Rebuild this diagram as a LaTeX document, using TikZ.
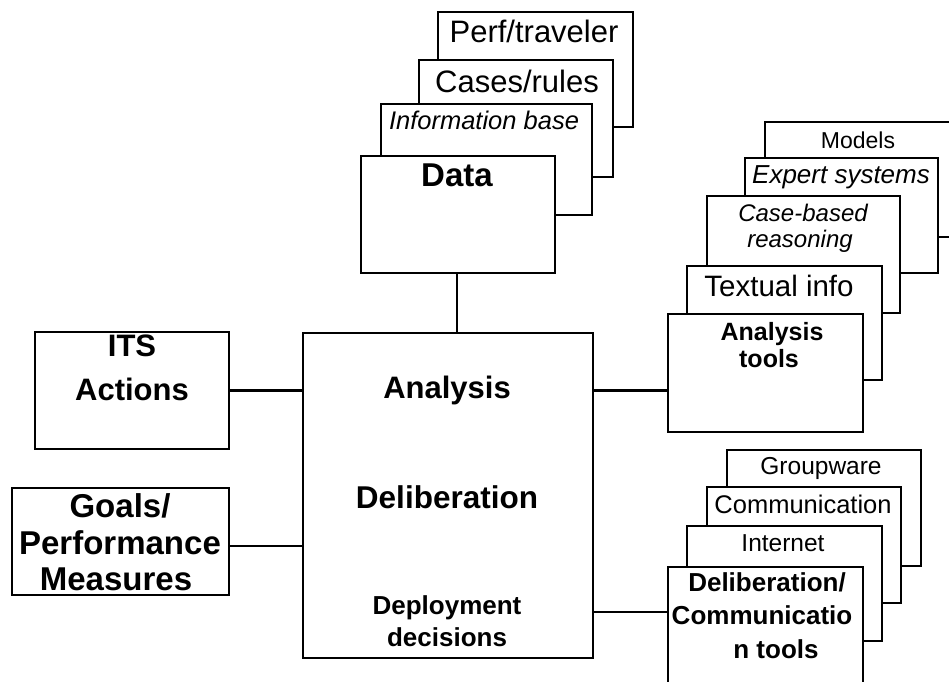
\documentclass[tikz,border=0pt]{standalone}
\usepackage{fontspec}
\setmainfont{Liberation Sans}
\begin{document}
\begin{tikzpicture}[x=1pt,y=-1pt,
  bx/.style={draw, line width=2.3pt, fill=white, inner sep=0pt, outer sep=0pt, anchor=north west},
  tx/.style={anchor=base, inner sep=0pt, outer sep=0pt},
  conn/.style={line width=2.3pt}]
\clip (0,0) rectangle (949,681);
\fill[white] (0,0) rectangle (949,681);
% ---- Data stack
\node[bx, minimum width=195, minimum height=115] (perf) at (438,12) {};
\node[tx, font=\fontsize{31}{35}\selectfont] (perft) at (534,42) {Perf/traveler};
\node[bx, minimum width=194, minimum height=117] (cases) at (419,60) {};
\node[tx, font=\fontsize{31}{35}\selectfont] (casest) at (517,92) {Cases/rules};
\node[bx, minimum width=211, minimum height=111] (info) at (381,104) {};
\node[tx, font=\fontsize{25.5}{29}\selectfont\itshape] (infot) at (484,129) {Information base};
\node[bx, minimum width=194, minimum height=117] (data) at (361,156) {};
\node[tx, font=\fontsize{33}{37}\selectfont\bfseries] (datat) at (457,186) {Data};
% ---- Main box
\node[bx, minimum width=290, minimum height=325] (main) at (303,333) {};
\node[tx, font=\fontsize{31}{35}\selectfont\bfseries] (m1) at (447,398) {Analysis};
\node[tx, font=\fontsize{31.5}{35}\selectfont\bfseries] (m2) at (447,508) {Deliberation};
\node[tx, font=\fontsize{26}{30}\selectfont\bfseries] (m3) at (447,614) {Deployment};
\node[tx, font=\fontsize{26}{30}\selectfont\bfseries] (m4) at (447,646) {decisions};
% ---- Left boxes
\node[bx, minimum width=194, minimum height=117] (its) at (35,332) {};
\node[tx, font=\fontsize{31}{35}\selectfont\bfseries] (its1) at (132,356) {ITS};
\node[tx, font=\fontsize{31}{35}\selectfont\bfseries] (its2) at (132,400) {Actions};
\node[bx, minimum width=217, minimum height=107] (goals) at (12,488) {};
\node[tx, font=\fontsize{33}{37}\selectfont\bfseries] (g1) at (120,517) {Goals/};
\node[tx, font=\fontsize{33}{37}\selectfont\bfseries] (g2) at (120,554) {Performance};
\node[tx, font=\fontsize{33}{37}\selectfont\bfseries] (g3) at (116,590) {Measures};
% ---- Analysis tools stack
\node[bx, minimum width=240, minimum height=115] (models) at (765,122) {};
\node[tx, font=\fontsize{23}{27}\selectfont] (modelst) at (858,148) {Models};
\node[bx, minimum width=193, minimum height=115] (expert) at (745,158) {};
\node[tx, font=\fontsize{26}{30}\selectfont\itshape] (expertt) at (841,183) {Expert systems};
\node[bx, minimum width=193, minimum height=117] (cbr) at (707,196) {};
\node[tx, font=\fontsize{24}{28}\selectfont\itshape] (cbr1) at (803,221) {Case-based};
\node[tx, font=\fontsize{24}{28}\selectfont\itshape] (cbr2) at (800,247) {reasoning};
\node[bx, minimum width=195, minimum height=114] (textual) at (687,266) {};
\node[tx, font=\fontsize{29.5}{33}\selectfont] (textualt) at (779,296) {Textual info};
\node[bx, minimum width=195, minimum height=118] (atools) at (668,314) {};
\node[tx, font=\fontsize{25}{29}\selectfont\bfseries] (at1) at (772,340) {Analysis};
\node[tx, font=\fontsize{25}{29}\selectfont\bfseries] (at2) at (769,367) {tools};
% ---- Deliberation tools stack
\node[bx, minimum width=194, minimum height=116] (group) at (727,450) {};
\node[tx, font=\fontsize{24.5}{28}\selectfont] (groupt) at (821,474) {Groupware};
\node[bx, minimum width=194, minimum height=116] (comm) at (707,487) {};
\node[tx, font=\fontsize{25.5}{29}\selectfont] (commt) at (803,513) {Communication};
\node[bx, minimum width=195, minimum height=115] (inet) at (687,526) {};
\node[tx, font=\fontsize{24.5}{28}\selectfont] (inett) at (783,551) {Internet};
\node[bx, minimum width=195, minimum height=140] (dtools) at (668,567) {};
\node[tx, font=\fontsize{26}{30}\selectfont\bfseries] (dt1) at (767,591) {Deliberation/};
\node[tx, font=\fontsize{26}{30}\selectfont\bfseries] (dt2) at (762,624) {Communicatio};
\node[tx, font=\fontsize{26}{30}\selectfont\bfseries] (dt3) at (776,658) {n tools};
% ---- Connectors
\draw[conn] (data.south -| 457,0) -- (main.north -| 457,0);
\draw[conn] (its.east) -- (main.west |- its.east);
\draw[conn] (goals.east |- 0,546) -- (main.west |- 0,546);
\draw[conn] (main.east |- its.east) -- (atools.west |- its.east);
\draw[conn] (main.east |- 0,612) -- (dtools.west |- 0,612);
\end{tikzpicture}
\end{document}
